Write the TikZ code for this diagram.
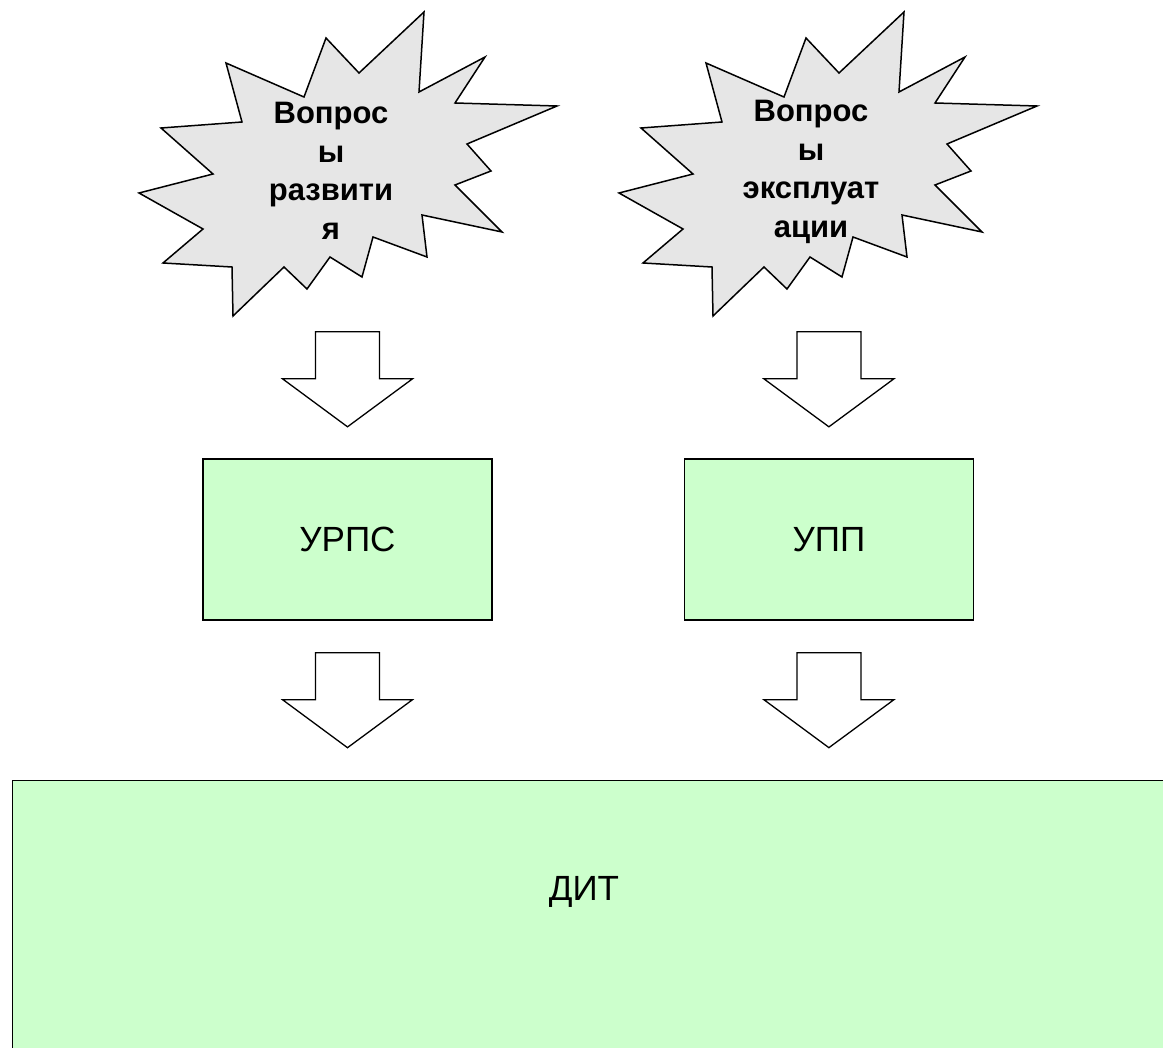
\documentclass[tikz,border=0pt]{standalone}
\usepackage{fontspec}
\setmainfont{Liberation Sans}
\usetikzlibrary{positioning}
\definecolor{boxgreen}{RGB}{204,255,204}
\definecolor{burstgray}{RGB}{230,230,230}
\tikzset{
  box/.style={draw, rectangle, fill=boxgreen, line width=1.4pt, inner sep=0pt, text centered, font=\fontsize{35}{40}\selectfont},
  bursttext/.style={align=center, inner sep=0pt, font=\bfseries\fontsize{31}{38.5}\selectfont},
  burst/.pic={
    \draw[fill=burstgray, line width=1.5pt] (94,158) -- (89,78) -- (155,113) -- (125,67) -- (227,64) -- (137,26)
      -- (161,-1) -- (125,-15) -- (172,-62) -- (92,-45) -- (97,-87) -- (43,-67) -- (32,-107) -- (0,-87)
      -- (-23,-119) -- (-46,-97) -- (-97,-146) -- (-98,-97) -- (-167,-93) -- (-127,-59) -- (-191,-23)
      -- (-117,-4) -- (-169,42) -- (-88,48) -- (-104,107) -- (-26,73) -- (-4,132) -- (29,97) -- cycle;
  },
  downarrow/.pic={
    \draw[fill=white, line width=1.3pt] (-32,0) -- (32,0) -- (32,-47) -- (65,-47) -- (0,-95) -- (-65,-47) -- (-32,-47) -- cycle;
  }
}

\begin{document}
\begin{tikzpicture}[x=1pt, y=1pt]
        \useasboundingbox (0,0) rectangle (1163,-1048);
        \clip (0,0) rectangle (1163,-1048);

        % nodes %
        \pic at (330,-170) {burst};
        \pic at (810,-170) {burst};
        \node[bursttext] (dev) at (331,-171) {Вопрос\\ы\\развити\\я};
        \node[bursttext] (ops) at (811,-172) {Вопрос\\ы\\эксплуат\\ации};

        \node[box, minimum width=289pt, minimum height=161pt] (urps) at (347.5,-539.5) {УРПС};
        \node[box, minimum width=289pt, minimum height=161pt, right=191pt of urps] (upp) {УПП};

        \node[box, anchor=north west, minimum width=1170pt, minimum height=290pt] (dit) at (12,-780) {};
        \node[font=\fontsize{35}{40}\selectfont] (dittext) at (584,-892) {ДИТ};

        % edges %
        \pic at ([yshift=126.5pt]urps.north) {downarrow};
        \pic at ([yshift=126.5pt]upp.north) {downarrow};
        \pic at ([yshift=-32pt]urps.south) {downarrow};
        \pic at ([yshift=-32pt]upp.south) {downarrow};
      \end{tikzpicture}
\end{document}
